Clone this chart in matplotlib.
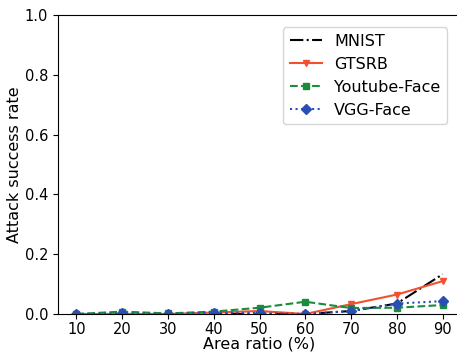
import matplotlib
matplotlib.use("Agg")
import matplotlib.pyplot as plt

area = [10, 20, 30, 40, 50, 60, 70, 80, 90]
mnist = [0.0, 0.0, 0.0, 0.0, 0.0, 0.0, 0.01, 0.035, 0.133]
gtsrb = [0.0, 0.0, 0.0, 0.005, 0.01, 0.0, 0.033, 0.065, 0.11]
youtube = [0.0, 0.008, 0.002, 0.008, 0.021, 0.041, 0.02, 0.021, 0.03]
vgg = [0.0, 0.002, 0.0, 0.005, 0.003, 0.0, 0.01, 0.035, 0.043]

fig = plt.figure(figsize=(4.57, 3.54), dpi=100)
ax = fig.add_axes([58/457, 1-314/354, 403/457, 299/354])

ax.plot(area, mnist, color='black', linestyle='-.', label='MNIST')
ax.plot(area, gtsrb, color='#f4502f', linestyle='-', marker='v', markersize=5, label='GTSRB')
ax.plot(area, youtube, color='#1a8c3c', linestyle='--', marker='s', markersize=5, label='Youtube-Face')
ax.plot(area, vgg, color='#2a4fb4', linestyle=':', marker='D', markersize=5, label='VGG-Face')

ax.set_ylim(0, 1.0)
ax.set_xlim(6, 94)
ax.set_xticks(area)
ax.set_yticks([0.0, 0.2, 0.4, 0.6, 0.8, 1.0])
ax.tick_params(labelsize=10.5)
ax.tick_params(axis='x', pad=2)
ax.set_xlabel('Area ratio (%)', fontsize=11.5, labelpad=0)
ax.set_ylabel('Attack success rate', fontsize=11.5, labelpad=2)
ax.legend(loc='upper right', bbox_to_anchor=(0.985, 0.985), fontsize=11.5)

fig.savefig('out.png', dpi=100)
